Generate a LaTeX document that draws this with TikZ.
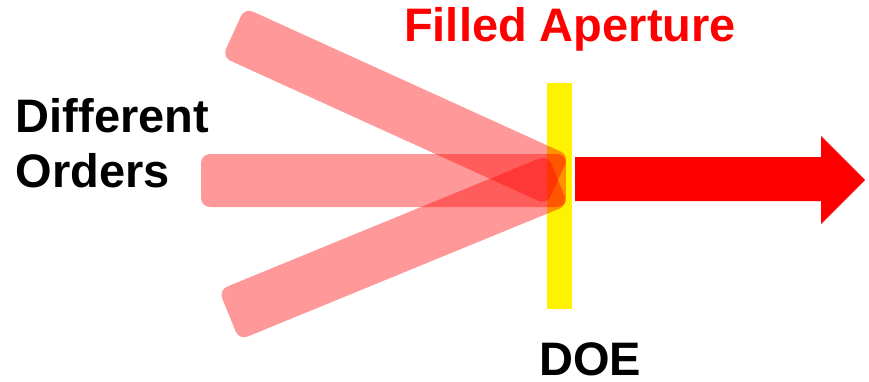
\documentclass[tikz,border=0pt]{standalone}
\usepackage{fontspec}
\setmainfont{Liberation Sans}

\tikzset{
    beam/.style={fill=red,fill opacity=.4,rounded corners=9pt},
    bigtext/.style={font=\fontsize{47}{55}\selectfont\bfseries,inner sep=0pt}
}

\begin{document}
\begin{tikzpicture}[x=1pt,y=-1pt]
    \useasboundingbox (0,0) rectangle (869,381);
    \fill[yellow] (547,83) rectangle (572,309);
    \fill[beam] (244.7,7.9) -- (569.2,155.4) -- (546.8,204.6) -- (222.3,57.1) -- cycle;
    \fill[beam] (201,154) -- (566,154) -- (566,207) -- (201,207) -- cycle;
    \fill[beam] (218.8,290) -- (547.8,155) -- (568.2,205) -- (239.2,340) -- cycle;
    \fill[red] (575,157) -- (821,157) -- (821,136) -- (865,180)
        -- (821,224) -- (821,201) -- (575,201) -- cycle;
    \node[bigtext,red,anchor=base] (aperture) at (570,41) {Filled Aperture};
    \node[bigtext,align=left,anchor=base west] (orders) at (15.5,187) {Different\\Orders};
    \node[bigtext,anchor=base] (doe) at (590,375) {DOE};
\end{tikzpicture}
\end{document}
